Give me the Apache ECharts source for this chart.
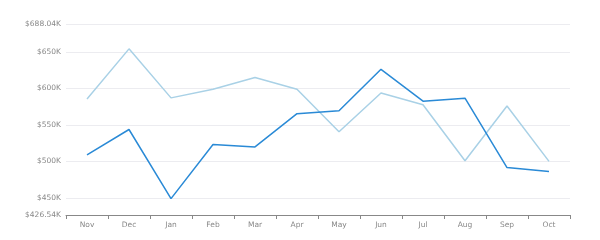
<!DOCTYPE html>
<html>
<head>
<meta charset="utf-8">
<script src="https://cdn.jsdelivr.net/npm/echarts@6/dist/echarts.min.js"></script>
<style>html,body{margin:0;padding:0;background:#fff}#c{width:600px;height:240px}</style>
</head>
<body>
<div id="c"></div>
<script>
const categories = ['Nov','Dec','Jan','Feb','Mar','Apr','May','Jun','Jul','Aug','Sep','Oct'];
const seriesA = [508900, 543600, 449000, 523000, 519700, 565300, 569300, 626000, 582400, 586500, 491500, 486000];
const seriesB = [585500, 654000, 586900, 598600, 614900, 598600, 540500, 593600, 577500, 500900, 575700, 500000];
const yMin = 426540;
const yMax = 688040;

function fmt(v){
  const k = v/1000;
  const s = Math.abs(k - Math.round(k)) < 1e-6 ? String(Math.round(k)) : k.toFixed(2);
  return '$' + s + 'K';
}

const chart = echarts.init(document.getElementById('c'), null, {renderer:'canvas'});
chart.setOption({
  animation:false,
  backgroundColor:'#ffffff',
  grid:{left:66, right:30, top:24, bottom:25, containLabel:false},
  xAxis:{
    type:'category', data:categories, boundaryGap:true,
    axisLine:{lineStyle:{color:'#888', width:1}},
    axisTick:{show:true, length:4, lineStyle:{color:'#888'}},
    axisLabel:{color:'#888', fontSize:7.5, fontFamily:'DejaVu Sans', margin:6},
    splitLine:{show:false}
  },
  yAxis:{
    type:'value', min:yMin, max:yMax, splitNumber:5,
    axisLine:{show:false}, axisTick:{show:false},
    axisLabel:{color:'#888', fontSize:7.5, fontFamily:'DejaVu Sans', margin:5, formatter:fmt, showMinLabel:true, showMaxLabel:true},
    splitLine:{show:true, lineStyle:{color:'#ececf0', width:1}}
  },
  series:[
    {type:'line', data:seriesB, symbol:'none', lineStyle:{color:'#a9d1e6', width:1.5}, z:2},
    {type:'line', data:seriesA, symbol:'none', lineStyle:{color:'#2a8ad6', width:1.5}, z:3}
  ]
});
</script>
</body>
</html>
